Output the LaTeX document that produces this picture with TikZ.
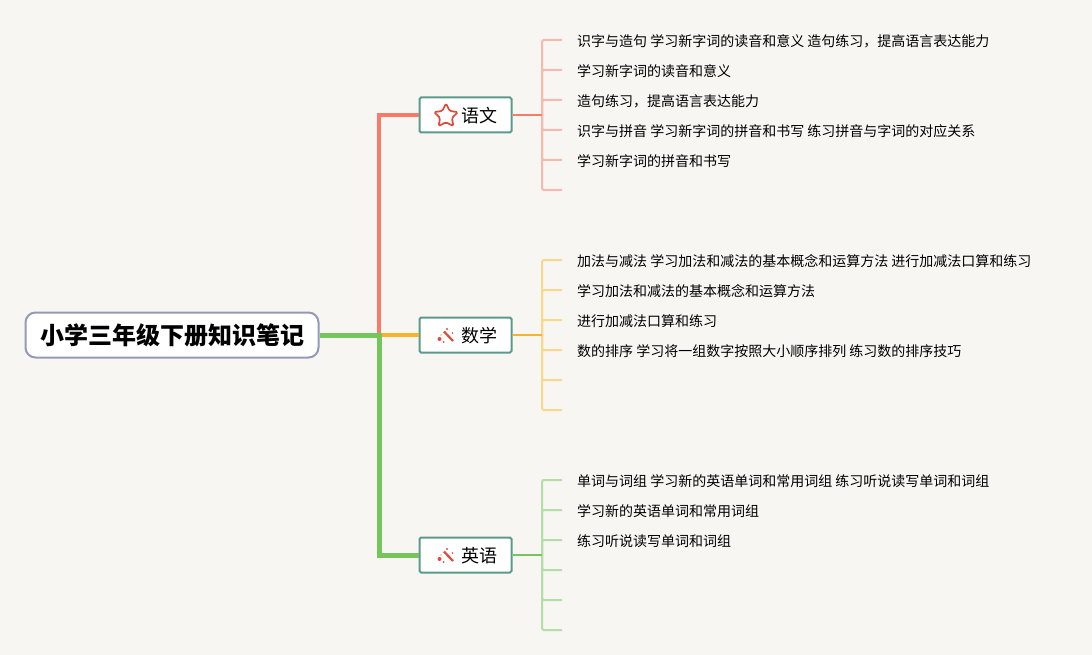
\documentclass[tikz,border=0pt]{standalone}
\usepackage{fontspec}
\setmainfont{Noto Sans CJK SC}
\usepackage{xcolor}
\usetikzlibrary{positioning,shapes.geometric,calc}
\definecolor{paper}{HTML}{F8F6F3}
\definecolor{boxline}{HTML}{5B9A8B}
\definecolor{rootline}{HTML}{9499B8}
\definecolor{redline}{HTML}{FA7A6A}
\definecolor{redleaf}{HTML}{F6B9AF}
\definecolor{orangeline}{HTML}{F5B52A}
\definecolor{orangeleaf}{HTML}{F8D98C}
\definecolor{greenline}{HTML}{75C65A}
\definecolor{greenleaf}{HTML}{B5DDA6}
\definecolor{iconred}{HTML}{DE4A3C}
\tikzset{
    root-box/.style = {draw=rootline, fill=white, line width=2pt, rectangle, rounded corners=10pt, minimum width=293pt, minimum height=45pt, inner sep=0pt, font=\fontsize{24}{24}\selectfont\bfseries},
    topic-box/.style = {draw=boxline, fill=white, line width=2pt, rectangle, rounded corners=1.5pt, minimum width=92pt, minimum height=35pt, inner sep=0pt},
    topic-text/.style = {inner sep=0pt, font=\fontsize{18}{18}\selectfont},
    leaf-text/.style = {anchor=west, inner sep=0pt, font=\fontsize{14}{14}\selectfont},
    star-icon/.style = {draw=iconred, fill=white, line width=1.7pt, star, star points=5, star point ratio=2.0, minimum size=25pt, inner sep=0pt, rounded corners=1.5pt},
    trunk/.style = {line width=#1, line join=miter},
    twig/.style = {line width=2pt, rounded corners=1.5pt},
}
% wand icon, centre at the given point
\newcommand{\wandicon}[1]{
    \draw[iconred, line width=2.2pt] ($(#1)+(-2,-4.5)$) -- ($(#1)+(7,5)$);
    \fill[iconred] ($(#1)+(-6.5,3)$) circle (2pt) ($(#1)+(-2.5,6)$) circle (1pt) ($(#1)+(1,-7)$) circle (1.2pt) ($(#1)+(6.5,-3)$) circle (0.8pt) ($(#1)+(-5,-1)$) circle (0.6pt);
}
\begin{document}
\begin{tikzpicture}[x=1pt, y=-1pt]
\useasboundingbox[fill=paper] (0,0) rectangle (1092,655);

\node [root-box] (root) at (172,335) {小学三年级下册知识笔记};
\node [topic-box] (yuwen) at (465.5,115) {};
\node [topic-box] (shuxue) at (465.5,335) {};
\node [topic-box] (yingyu) at (465.5,555) {};
\node [topic-text] (yuwen-text) at (479.5,116) {语文};
\node [topic-text] (shuxue-text) at (479.5,336) {数学};
\node [topic-text] (yingyu-text) at (479.5,556) {英语};
\node [star-icon] (star) at (446,116) {};
\coordinate (wand-a) at (446,336);
\coordinate (wand-b) at (446,556);
\wandicon{wand-a}
\wandicon{wand-b}

\coordinate (fork) at (379,335);
\draw [trunk=3.5pt, redline] (fork) -- (fork |- yuwen) -- (yuwen.west);
\draw [trunk=3.5pt, orangeline] (fork) -- (shuxue.west);
\draw [trunk=5pt, greenline] (root.east) -- (fork) -- (fork |- yingyu) -- (yingyu.west);

% leaves: topic, first y, colours
\foreach \topic/\first/\col/\leaf in {yuwen/40/redline/redleaf, shuxue/260/orangeline/orangeleaf, yingyu/480/greenline/greenleaf} {
    \coordinate (\topic-fork) at (542,0 |- \topic);
    \foreach \i in {0,...,5} {
        \pgfmathsetmacro{\ypos}{\first+30*\i}
        \coordinate (\topic-end-\i) at (562,\ypos);
        \draw [twig, \leaf] (\topic-fork) -- (\topic-fork |- \topic-end-\i) -- (\topic-end-\i);
    }
    \draw [line width=2.2pt, \col] (\topic.east) -- (\topic-fork);
}

\node [leaf-text] (y1) at (577,41) {识字与造句 学习新字词的读音和意义 造句练习，提高语言表达能力};
\node [leaf-text] (y2) at (577,71) {学习新字词的读音和意义};
\node [leaf-text] (y3) at (577,101) {造句练习，提高语言表达能力};
\node [leaf-text] (y4) at (577,131) {识字与拼音 学习新字词的拼音和书写 练习拼音与字词的对应关系};
\node [leaf-text] (y5) at (577,161) {学习新字词的拼音和书写};

\node [leaf-text] (s1) at (577,261) {加法与减法 学习加法和减法的基本概念和运算方法 进行加减法口算和练习};
\node [leaf-text] (s2) at (577,291) {学习加法和减法的基本概念和运算方法};
\node [leaf-text] (s3) at (577,321) {进行加减法口算和练习};
\node [leaf-text] (s4) at (577,351) {数的排序 学习将一组数字按照大小顺序排列 练习数的排序技巧};

\node [leaf-text] (e1) at (577,481) {单词与词组 学习新的英语单词和常用词组 练习听说读写单词和词组};
\node [leaf-text] (e2) at (577,511) {学习新的英语单词和常用词组};
\node [leaf-text] (e3) at (577,541) {练习听说读写单词和词组};
\end{tikzpicture}
\end{document}
